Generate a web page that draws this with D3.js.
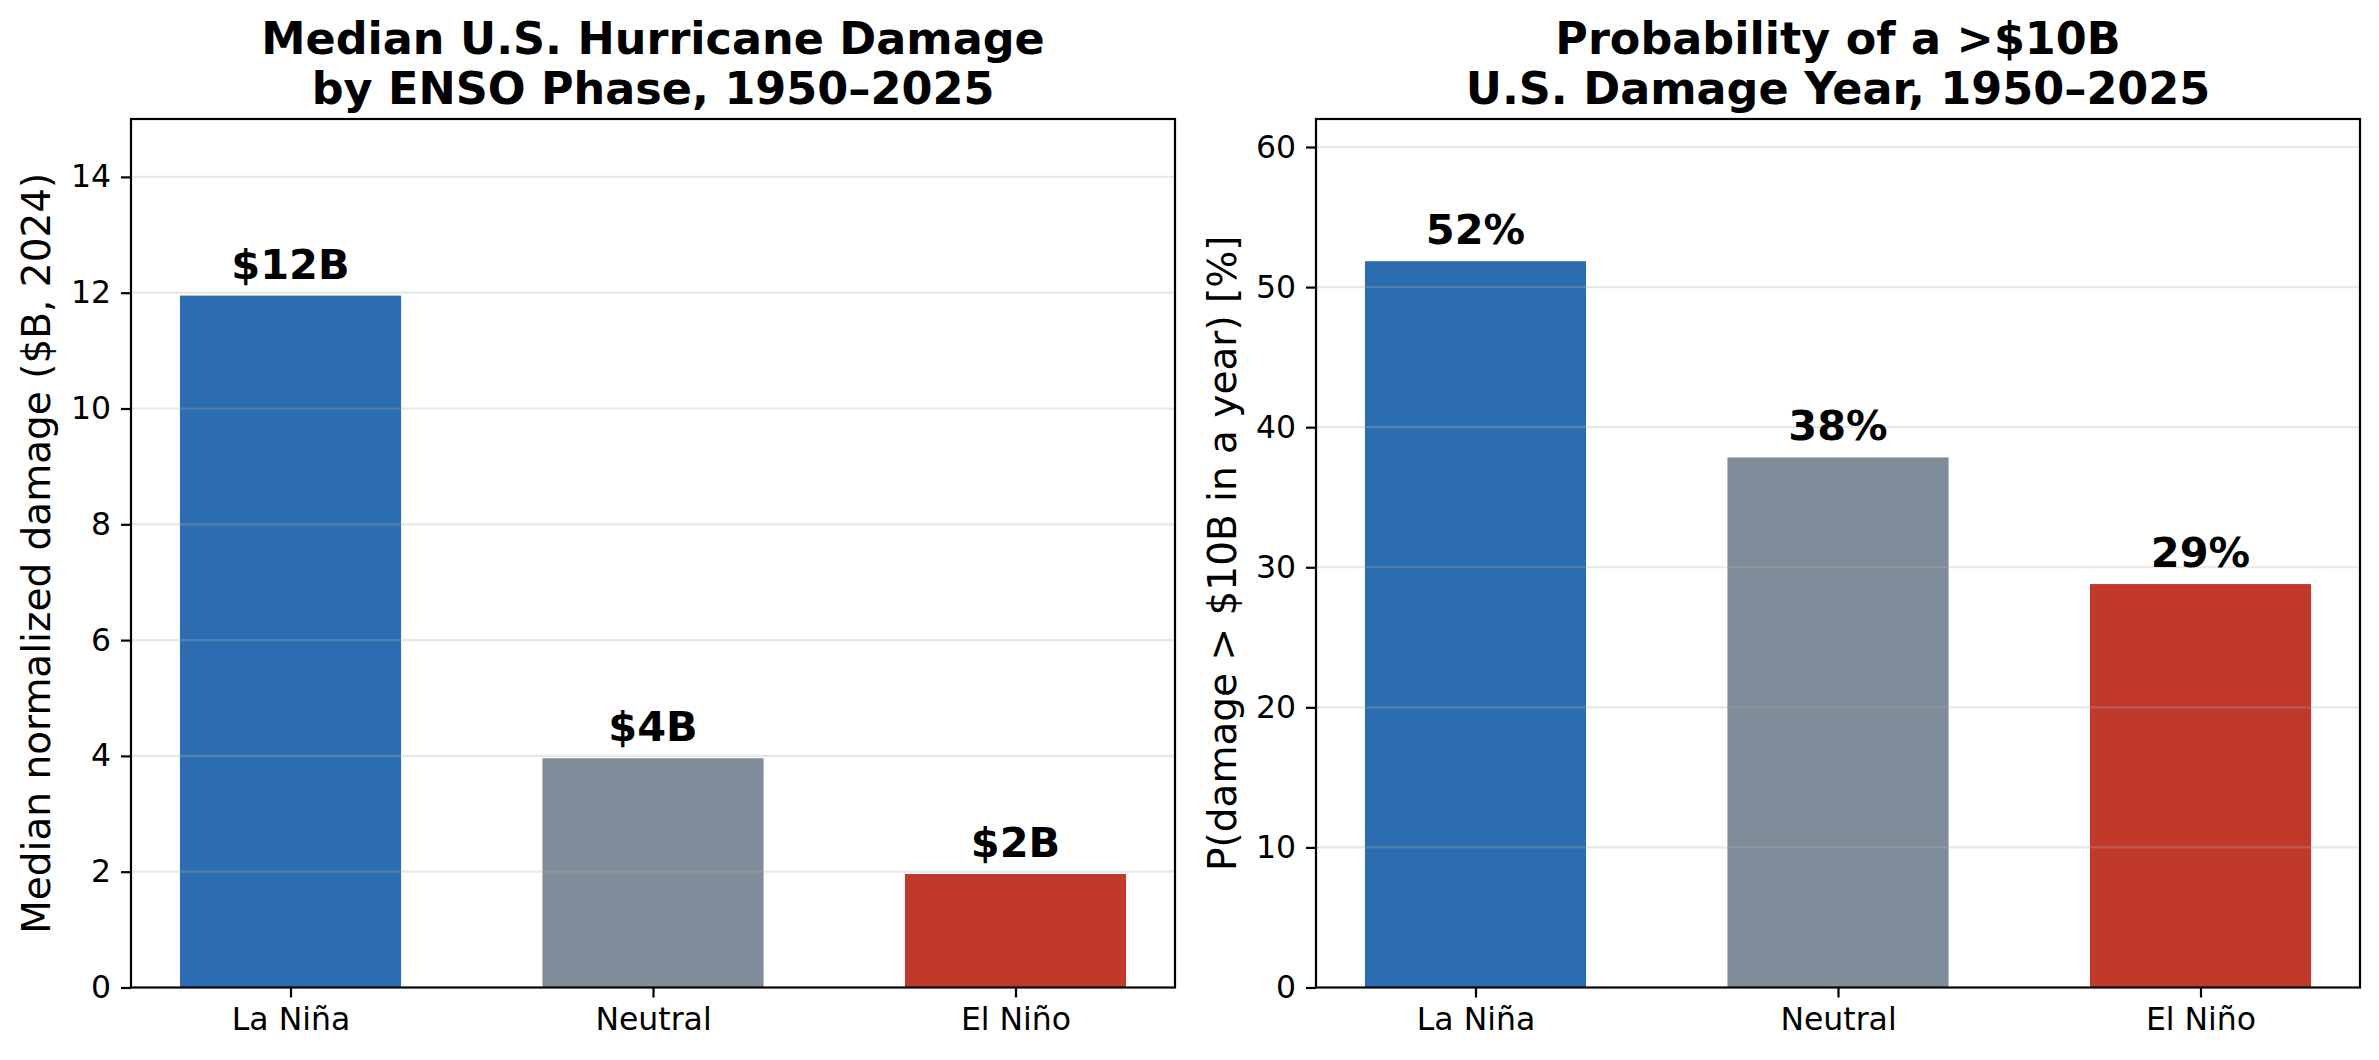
<!DOCTYPE html>
<html>
<head>
<meta charset="utf-8">
<script src="https://cdn.jsdelivr.net/npm/d3@7"></script>
<style>
  body { margin: 0; background: #fff; }
  svg { display: block; font-family: "DejaVu Sans", sans-serif; }
</style>
</head>
<body>
<div id="chart"></div>
<script>
const w = 2379
const h = 1060

// data
const phases = ['La Niña', 'Neutral', 'El Niño']
const barColors = ['#2c6cb0', '#7f8c99', '#c0392b']

const medianDamage = [11.95, 3.96, 1.96]
const damageLabels = ['$12B', '$4B', '$2B']
const damageTicks = [0, 2, 4, 6, 8, 10, 12, 14]

const probBigYear = [51.85, 37.84, 28.8]
const probLabels = ['52%', '38%', '29%']
const probTicks = [0, 10, 20, 30, 40, 50, 60]

const svg = d3.select('#chart')
    .append('svg')
    .attr('width', w)
    .attr('height', h)

svg.append('rect').attr('width', w).attr('height', h).attr('fill', '#fff')

const plotTop = 119
const plotBottom = 987.5

function panel(opts) {
    const g = svg.append('g')

    const xScale = d3.scaleLinear()
        .domain([-0.44, 2.44])
        .range([opts.left, opts.right])

    const yScale = d3.scaleLinear()
        .domain([0, opts.ymax])
        .range([plotBottom, plotTop])

    const bw = xScale(0.305) - xScale(0)

    g.selectAll('rect.bar')
        .data(opts.values)
        .enter()
        .append('rect')
        .attr('class', 'bar')
        .attr('x', (d, i) => xScale(i) - bw)
        .attr('y', d => yScale(d))
        .attr('width', bw * 2)
        .attr('height', d => yScale(0) - yScale(d))
        .attr('fill', (d, i) => barColors[i])

    // grid sits above the bars, faint
    g.selectAll('line.grid')
        .data(opts.ticks.filter(t => t > 0))
        .enter()
        .append('line')
        .attr('class', 'grid')
        .attr('x1', opts.left)
        .attr('x2', opts.right)
        .attr('y1', d => yScale(d))
        .attr('y2', d => yScale(d))
        .attr('stroke', '#b0b0b0')
        .attr('stroke-opacity', 0.3)
        .attr('stroke-width', 2.2)

    g.selectAll('text.val')
        .data(opts.values)
        .enter()
        .append('text')
        .attr('class', 'val')
        .attr('x', (d, i) => xScale(i))
        .attr('y', d => yScale(d) - 17)
        .attr('text-anchor', 'middle')
        .attr('font-size', 41.5)
        .attr('font-weight', 'bold')
        .text((d, i) => opts.labels[i])

    const yAxis = d3.axisLeft(yScale)
        .tickValues(opts.ticks)
        .tickSize(10)
        .tickPadding(10)
        .tickFormat(d3.format('d'))

    const xAxis = d3.axisBottom(xScale)
        .tickValues([0, 1, 2])
        .tickSize(10)
        .tickPadding(10)
        .tickFormat(i => phases[i])

    const ya = g.append('g')
        .attr('transform', `translate(${opts.left},0)`)
        .call(yAxis)
    const xa = g.append('g')
        .attr('transform', `translate(0,${plotBottom})`)
        .call(xAxis)

    ;[ya, xa].forEach(a => {
        a.select('.domain').remove()
        a.selectAll('line').attr('stroke', '#000').attr('stroke-width', 2.2)
        a.selectAll('text')
            .attr('font-size', 31.5)
            .attr('font-family', '"DejaVu Sans", sans-serif')
            .attr('fill', '#000')
    })

    // frame
    g.append('rect')
        .attr('x', opts.left)
        .attr('y', plotTop)
        .attr('width', opts.right - opts.left)
        .attr('height', plotBottom - plotTop)
        .attr('fill', 'none')
        .attr('stroke', '#000')
        .attr('stroke-width', 2.2)

    const cx = (opts.left + opts.right) / 2
    const title = g.append('text')
        .attr('text-anchor', 'middle')
        .attr('font-size', 44.5)
        .attr('font-weight', 'bold')
    opts.title.forEach((line, i) => {
        title.append('tspan')
            .attr('x', cx)
            .attr('y', 54 + i * 50)
            .text(line)
    })

    g.append('text')
        .attr('transform', `translate(${opts.ylabelX},${(plotTop + plotBottom) / 2}) rotate(-90)`)
        .attr('text-anchor', 'middle')
        .attr('dy', '0.35em')
        .attr('font-size', 39)
        .text(opts.ylabel)
}

panel({
    left: 131,
    right: 1175,
    ymax: 15,
    values: medianDamage,
    labels: damageLabels,
    ticks: damageTicks,
    title: ['Median U.S. Hurricane Damage', 'by ENSO Phase, 1950–2025'],
    ylabel: 'Median normalized damage ($B, 2024)',
    ylabelX: 36
})

panel({
    left: 1316,
    right: 2360,
    ymax: 62,
    values: probBigYear,
    labels: probLabels,
    ticks: probTicks,
    title: ['Probability of a >$10B', 'U.S. Damage Year, 1950–2025'],
    ylabel: 'P(damage > $10B in a year) [%]',
    ylabelX: 1222
})
</script>
</body>
</html>
